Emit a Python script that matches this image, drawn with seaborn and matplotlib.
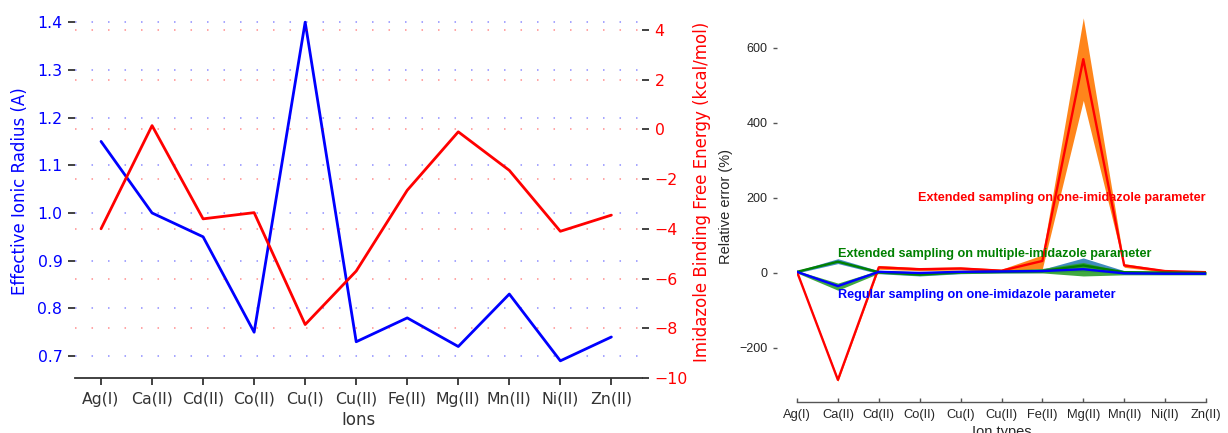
import matplotlib
matplotlib.use("Agg")
import matplotlib.pyplot as plt
import seaborn as sns

# Ion categories shared by both panels
ions = ["Ag(I)", "Ca(II)", "Cd(II)", "Co(II)", "Cu(I)", "Cu(II)",
        "Fe(II)", "Mg(II)", "Mn(II)", "Ni(II)", "Zn(II)"]

# Left panel: ionic radius (A) and imidazole binding free energy (kcal/mol)
ionic_radius = [1.15, 1.00, 0.95, 0.75, 1.40, 0.73, 0.78, 0.72, 0.83, 0.69, 0.74]
binding_energy = [-4.0, 0.15, -3.6, -3.35, -7.85, -5.7, -2.45, -0.1, -1.65, -4.1, -3.45]
radius_ticks = [0.7, 0.8, 0.9, 1.0, 1.1, 1.2, 1.3, 1.4]
energy_ticks = [-10, -8, -6, -4, -2, 0, 2, 4]

# Right panel: relative error (%) with lower / upper band limits
err_one_ext = [3, -285, 15, 10, 12, 6, 32, 570, 20, 5, 2]
err_one_ext_lo = [0, -289, 10, 6, 8, 2, 12, 460, 15, 2, 0]
err_one_ext_hi = [6, -281, 20, 14, 16, 10, 48, 680, 25, 8, 4]

err_multi_ext = [3, 30, 2, -4, 2, 3, 5, 20, 2, 1, 0]
err_multi_ext_lo = [0, 25, -2, -8, -2, 0, 1, 4, -2, -2, -3]
err_multi_ext_hi = [6, 38, 6, 0, 6, 6, 10, 40, 6, 4, 4]

err_regular = [3, -35, 3, 0, 3, 4, 5, 10, -1, -2, -2]
err_regular_lo = [0, -46, -1, -7, -1, 0, 0, -8, -5, -5, -5]
err_regular_hi = [6, -27, 7, 3, 6, 8, 12, 28, 3, 2, 2]

error_ticks = [-200, 0, 200, 400, 600]

W, H = 1228, 433
fig = plt.figure(figsize=(W / 100, H / 100), dpi=100)

# ---------------- left panel ----------------
sns.set_style("white")
plt.rcParams["font.family"] = ["DejaVu Sans"]
dark = "#333333"

ax1 = fig.add_axes([75 / W, 1 - 378 / H, (642 - 75) / W, (378 - 5) / H])
ax2 = ax1.twinx()

sns.lineplot(x=ions, y=ionic_radius, ax=ax1, color="blue", lw=2.0, sort=False)
sns.lineplot(x=ions, y=binding_energy, ax=ax2, color="red", lw=2.0, sort=False)

ax1.set_xlim(-0.51, 10.6)
ax1.set_ylim(0.654, 1.436)
ax2.set_ylim(-10, 5)
ax1.set_yticks(radius_ticks)
ax2.set_yticks(energy_ticks)

for t in radius_ticks:
    ax1.axhline(t, color="blue", lw=1.1, alpha=0.45, dashes=(1, 9.8), zorder=0)
for t in energy_ticks[1:]:
    ax2.axhline(t, color="red", lw=1.1, alpha=0.45, dashes=(1, 9.8), zorder=0)

for a in (ax1, ax2):
    for s in ("top", "left", "right"):
        a.spines[s].set_visible(False)
    a.spines["bottom"].set_color(dark)
    a.spines["bottom"].set_linewidth(1.3)
ax2.spines["bottom"].set_visible(False)

ax1.tick_params(axis="y", colors=dark, labelcolor="blue", labelsize=11.3,
                length=5, width=1.3, left=True, direction="out", pad=4)
ax2.tick_params(axis="y", colors=dark, labelcolor="red", labelsize=11.3,
                length=5, width=1.3, right=True, direction="out", pad=4)
ax1.tick_params(axis="x", colors=dark, labelcolor=dark, labelsize=11.3,
                length=5, width=1.3, bottom=True, direction="out", pad=5)

ax1.set_xlabel("Ions", fontsize=12, color=dark, labelpad=3)
ax1.set_ylabel("Effective Ionic Radius (A)", fontsize=12, color="blue", labelpad=6)
ax2.set_ylabel("Imidazole Binding Free Energy (kcal/mol)", fontsize=12,
               color="red", labelpad=4)

# ---------------- right panel ----------------
plt.rcParams["font.family"] = ["Liberation Sans", "DejaVu Sans"]
ax3 = fig.add_axes([797 / W, 1 - 402 / H, (1206 - 797) / W, (402 - 10) / H])
ax3.set_facecolor("white")

ax3.fill_between(ions, err_one_ext_lo, err_one_ext_hi, color="#ff7f0e",
                 alpha=0.95, lw=0)
sns.lineplot(x=ions, y=err_one_ext, ax=ax3, color="red", lw=1.7, sort=False)

ax3.fill_between(ions, err_multi_ext_lo, err_multi_ext_hi, color="#1f77b4",
                 alpha=0.85, lw=0)
sns.lineplot(x=ions, y=err_multi_ext, ax=ax3, color="green", lw=1.7, sort=False)

ax3.fill_between(ions, err_regular_lo, err_regular_hi, color="#2ca02c",
                 alpha=0.9, lw=0)
sns.lineplot(x=ions, y=err_regular, ax=ax3, color="blue", lw=1.7, sort=False)

ax3.set_xlim(0, 10)
ax3.set_ylim(-344, 701)
ax3.set_yticks(error_ticks)

ax3.text(10, 200, "Extended sampling on one-imidazole parameter", color="red",
         fontsize=9.1, fontweight="bold", ha="right", va="center")
ax3.text(1, 50, "Extended sampling on multiple-imidazole parameter",
         color="green", fontsize=9.1, fontweight="bold", ha="left", va="center")
ax3.text(1, -60, "Regular sampling on one-imidazole parameter", color="blue",
         fontsize=9.1, fontweight="bold", ha="left", va="center")

for s in ("top", "right"):
    ax3.spines[s].set_visible(False)
ax3.spines["left"].set_position(("outward", 14.4))
ax3.spines["left"].set_visible(False)
ax3.spines["bottom"].set_bounds(0, 10)
ax3.spines["bottom"].set_color("#555555")
ax3.spines["bottom"].set_linewidth(1.0)

ax3.tick_params(axis="y", colors="#555555", labelcolor="#262626", labelsize=9,
                length=3, width=1, left=True, direction="out", pad=4)
ax3.tick_params(axis="x", colors="#555555", labelcolor="#262626", labelsize=9.3,
                length=3, width=1, bottom=True, direction="in", pad=5)
ax3.set_xlabel("Ion types", fontsize=10.5, color="#262626", labelpad=3)
ax3.set_ylabel("Relative error (%)", fontsize=10.5, color="#262626", labelpad=4)

fig.savefig("out.png", dpi=100)
